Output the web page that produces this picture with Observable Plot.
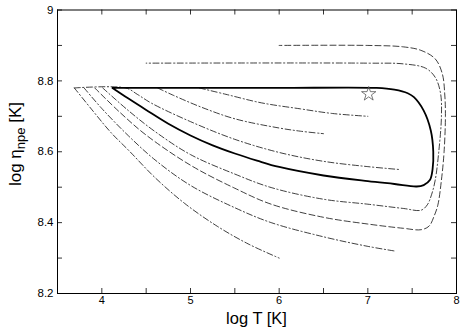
<!DOCTYPE html>
<html>
<head>
<meta charset="utf-8">
<script src="https://cdn.jsdelivr.net/npm/d3@7"></script>
<script src="https://cdn.jsdelivr.net/npm/@observablehq/plot@0.6"></script>
<style>
  html, body { margin: 0; padding: 0; background: #fff; }
  #chart svg { display: block; }
</style>
</head>
<body>
<div id="chart"></div>
<script>
// Data: [log T, log eta_npe]
const curveA = [[3.69,8.78],[3.9,8.715],[4.1,8.655],[4.31,8.602],[4.6,8.527],[4.93,8.455],[5.3,8.39],[5.65,8.34],[6.0,8.30]];
const curveB = [[3.80,8.78],[4.0,8.722],[4.3,8.645],[4.6,8.577],[5.0,8.505],[5.5,8.442],[5.91,8.40],[6.5,8.36],[7.0,8.333],[7.3,8.32]];
const curveC = [[3.92,8.78],[4.2,8.712],[4.5,8.647],[5.0,8.562],[5.5,8.497],[5.91,8.452],[6.5,8.415],[7.0,8.396],[7.4,8.384],[7.6,8.38],[7.69,8.39],[7.75,8.42],[7.79,8.45],[7.83,8.52],[7.86,8.6],[7.875,8.7],[7.868,8.76],[7.84,8.82],[7.76,8.862],[7.6,8.886],[7.4,8.896],[7.0,8.9],[6.0,8.9]];
const curveD = [[4.01,8.78],[4.3,8.716],[4.6,8.657],[5.0,8.592],[5.5,8.537],[5.91,8.499],[6.5,8.466],[7.0,8.452],[7.4,8.44],[7.6,8.435],[7.67,8.45],[7.72,8.48],[7.76,8.52],[7.8,8.6],[7.83,8.7],[7.82,8.765],[7.76,8.81],[7.65,8.836],[7.4,8.848],[7.0,8.85],[4.5,8.85]];
const curveE = [[3.69,8.78],[4.27,8.78],[4.4,8.762],[4.56,8.737],[5.0,8.685],[5.5,8.635],[6.0,8.598],[6.5,8.573],[7.0,8.558],[7.35,8.55]];
const curveF = [[4.63,8.78],[4.8,8.76],[5.12,8.726],[5.5,8.693],[6.0,8.667],[6.24,8.658],[6.5,8.651]];
const curveG = [[5.10,8.78],[5.4,8.762],[5.8,8.738],[6.24,8.721],[6.6,8.708],[7.0,8.70]];
const solid  = [[4.12,8.78],[4.3,8.75],[4.5,8.718],[4.75,8.679],[5.0,8.646],[5.25,8.618],[5.5,8.595],[5.75,8.575],[6.0,8.557],[6.5,8.533],[7.0,8.517],[7.3,8.509],[7.55,8.502],[7.63,8.506],[7.7,8.52],[7.73,8.55],[7.738,8.6],[7.71,8.66],[7.63,8.716],[7.52,8.754],[7.45,8.765],[7.3,8.775],[7.1,8.78],[6.0,8.78],[5.0,8.78],[4.12,8.78]];
const star = [[7.01,8.763]];

const xTicks = [4,5,6,7,8];
const xMinor = [3.5,4,4.5,5,5.5,6,6.5,7,7.5,8];
const yTicks = [8.2,8.4,8.6,8.8,9];
const yMinor = [8.2,8.3,8.4,8.5,8.6,8.7,8.8,8.9,9];
const xDomain = [3.5, 8];
const yDomain = [8.2, 9];

const dashDot = "6,2.5,1.2,2.5";
const dashed = "6,3";

const thin = {x: d => d[0], y: d => d[1], stroke: "#000", strokeWidth: 0.75, curve: "catmull-rom"};
const W = 463, H = 327;
const mL = 57, mR = 7, mT = 9.5, mB = 34;
const tickLen = 5;
const dxTick = tickLen * (xDomain[1]-xDomain[0]) / (W - mL - mR);
const dyTick = tickLen * (yDomain[1]-yDomain[0]) / (H - mT - mB);

const plot = Plot.plot({
  width: W, height: H,
  marginLeft: mL, marginRight: mR, marginTop: mT, marginBottom: mB,
  style: {fontFamily: "'Liberation Sans', Arial, sans-serif", fontSize: "11px", background: "#fff"},
  x: {domain: xDomain},
  y: {domain: yDomain},
  marks: [
    Plot.axisX({ticks: xTicks, tickSize: 0, tickPadding: 3, tickFormat: d => String(d), label: null, fontSize: 11, fill: "#000"}),
    Plot.axisY({ticks: yTicks, tickSize: 0, tickPadding: 4, tickFormat: d => String(d), label: null, fontSize: 11.5, fill: "#000"}),
    // inward ticks
    Plot.ruleX(xMinor, {x: d => d, y1: yDomain[0], y2: yDomain[0] + dyTick, stroke: "#000", strokeWidth: 0.8}),
    Plot.ruleX(xMinor, {x: d => d, y1: yDomain[1], y2: yDomain[1] - dyTick, stroke: "#000", strokeWidth: 0.8}),
    Plot.ruleY(yMinor, {y: d => d, x1: xDomain[0], x2: xDomain[0] + dxTick, stroke: "#000", strokeWidth: 0.8}),
    Plot.ruleY(yMinor, {y: d => d, x1: xDomain[1], x2: xDomain[1] - dxTick, stroke: "#000", strokeWidth: 0.8}),
    Plot.line(curveA, {...thin, strokeDasharray: dashDot}),
    Plot.line(curveB, {...thin, strokeDasharray: dashDot}),
    Plot.line(curveC, {...thin, strokeDasharray: dashed}),
    Plot.line(curveD, {...thin, strokeDasharray: dashDot}),
    Plot.line(curveE, {...thin, strokeDasharray: dashDot}),
    Plot.line(curveF, {...thin, strokeDasharray: dashDot}),
    Plot.line(curveG, {...thin, strokeDasharray: dashDot}),
    Plot.line(solid, {x: d => d[0], y: d => d[1], stroke: "#000", strokeWidth: 1.8, curve: "catmull-rom"}),
    Plot.dot(star, {x: d => d[0], y: d => d[1], symbol: "star", r: 4.5, fill: "none", stroke: "#555", strokeWidth: 0.8}),
    Plot.frame({stroke: "#000", strokeWidth: 1})
  ]
});

const svg = d3.select(plot);
const fam = "'Liberation Sans', Arial, sans-serif";
svg.append("text")
  .attr("x", mL + (W - mL - mR) / 2).attr("y", 323.5)
  .attr("text-anchor", "middle").attr("font-family", fam).attr("font-size", 16.5).attr("fill", "#000")
  .text("log T [K]");
const yl = svg.append("text")
  .attr("transform", `translate(21, 144) rotate(-90)`)
  .attr("text-anchor", "middle").attr("font-family", fam).attr("font-size", 17).attr("fill", "#000");
yl.append("tspan").text("log η");
yl.append("tspan").attr("font-size", 13).attr("dy", 4).text("npe");
yl.append("tspan").attr("dy", -4).text(" [K]");

document.getElementById("chart").appendChild(plot);
</script>
</body>
</html>
